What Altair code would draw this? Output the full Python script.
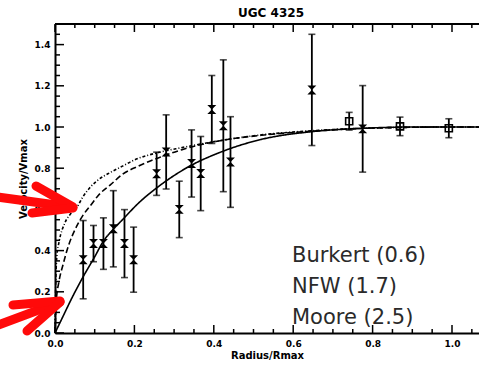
import altair as alt
import pandas as pd

# ---------------- data ----------------
pt_x = [0.071, 0.097, 0.122, 0.147, 0.175, 0.198, 0.256, 0.280, 0.313, 0.344,
        0.367, 0.395, 0.424, 0.442, 0.647, 0.775]
pt_y = [0.356, 0.434, 0.434, 0.506, 0.434, 0.356, 0.773, 0.879, 0.600, 0.823,
        0.774, 1.085, 1.006, 0.830, 1.180, 0.991]
pt_err = [0.190, 0.088, 0.125, 0.185, 0.165, 0.158, 0.105, 0.180, 0.137, 0.163,
          0.180, 0.165, 0.320, 0.220, 0.270, 0.210]

sq_x = [0.741, 0.869, 0.992]
sq_y = [1.028, 1.003, 0.994]
sq_err = [0.043, 0.045, 0.046]

burkert_x = [0, 0.02, 0.04, 0.07, 0.10, 0.12, 0.15, 0.17, 0.21, 0.26, 0.33, 0.42,
             0.52, 0.65, 0.78, 0.90, 1.00, 1.068]
burkert_y = [0, 0.08, 0.16, 0.27, 0.37, 0.44, 0.51, 0.55, 0.63, 0.71, 0.80, 0.88,
             0.94, 0.978, 0.994, 1.0, 1.0, 1.0]

nfw_x = [0, 0.003, 0.01, 0.02, 0.035, 0.05, 0.07, 0.09, 0.11, 0.14, 0.17, 0.21,
         0.26, 0.32, 0.42, 0.52, 0.65, 0.80, 1.00, 1.068]
nfw_y = [0, 0.15, 0.25, 0.33, 0.43, 0.50, 0.57, 0.62, 0.67, 0.72, 0.77, 0.81,
         0.85, 0.89, 0.935, 0.96, 0.98, 0.995, 1.0, 1.0]

moore_x = [0, 0.002, 0.005, 0.01, 0.025, 0.04, 0.055, 0.07, 0.09, 0.11, 0.14, 0.17,
           0.20, 0.26, 0.32, 0.42, 0.52, 0.65, 0.80, 1.00, 1.068]
moore_y = [0, 0.25, 0.38, 0.44, 0.535, 0.58, 0.61, 0.66, 0.71, 0.745, 0.78, 0.81,
           0.84, 0.876, 0.90, 0.935, 0.962, 0.982, 0.995, 1.0, 1.0]

legend_lines = ["Burkert (0.6)", "NFW (1.7)", "Moore (2.5)"]
title_text = "UGC 4325"
x_title = "Radius/Rmax"
y_title = "Velocity/Vmax"
x_ticks = [0.0, 0.2, 0.4, 0.6, 0.8, 1.0]
y_ticks = [0.0, 0.2, 0.4, 0.6, 0.8, 1.0, 1.2, 1.4]
x_minor = [round(0.05 * i, 2) for i in range(0, 22)]
y_minor = [round(0.05 * i, 2) for i in range(0, 31)]

# ---------------- layout ----------------
W, H = 424, 309
XMAX, YMAX = 1.068, 1.5
FONT = "DejaVu Sans"

xs = alt.Scale(domain=[0, XMAX], nice=False, zero=False)
ys = alt.Scale(domain=[0, YMAX], nice=False, zero=False)

x_axis = alt.Axis(
    values=x_ticks, format=".1f", ticks=False, grid=False,
    domainColor="black", domainWidth=2,
    labelFont=FONT, labelFontSize=9, labelFontWeight="bold", labelColor="black",
    labelPadding=6, labelFlush=False,
    title=x_title, titleFont=FONT, titleFontSize=10, titleFontWeight="bold",
    titleColor="black", titlePadding=2)
y_axis = alt.Axis(
    values=y_ticks, format=".1f", ticks=False, grid=False,
    domainColor="black", domainWidth=2,
    labelFont=FONT, labelFontSize=9, labelFontWeight="bold", labelColor="black",
    labelPadding=5, labelFlush=False,
    title=y_title, titleFont=FONT, titleFontSize=10, titleFontWeight="bold",
    titleColor="black", titlePadding=6)


def X(field):
    return alt.X(field, scale=xs, axis=x_axis)


def Y(field):
    return alt.Y(field, scale=ys, axis=y_axis)


pts = pd.DataFrame({"x": pt_x, "y": pt_y, "err": pt_err})
sqs = pd.DataFrame({"x": sq_x, "y": sq_y, "err": sq_err})
allpts = pd.concat([pts, sqs], ignore_index=True)
allpts["lo"] = allpts["y"] - allpts["err"]
allpts["hi"] = allpts["y"] + allpts["err"]

curves = pd.concat([
    pd.DataFrame({"x": burkert_x, "y": burkert_y, "model": "Burkert"}),
    pd.DataFrame({"x": nfw_x, "y": nfw_y, "model": "NFW"}),
    pd.DataFrame({"x": moore_x, "y": moore_y, "model": "Moore"}),
], ignore_index=True)

xticks_df = pd.DataFrame({"v": x_minor})
xticks_df["major"] = [abs(v / 0.2 - round(v / 0.2)) < 1e-6 for v in x_minor]
yticks_df = pd.DataFrame({"v": y_minor})
yticks_df["major"] = [abs(v / 0.2 - round(v / 0.2)) < 1e-6 for v in y_minor]

top_frame = alt.Chart(pd.DataFrame({"a": [0]})).mark_rule(color="black", strokeWidth=2).encode(
    x=alt.value(0), x2=alt.value(W), y=alt.value(0))


def xtick_layer(major, length, top):
    d = xticks_df[xticks_df["major"] == major]
    y0 = 0 if top else H
    y1 = length if top else H - length
    return alt.Chart(d).mark_rule(color="black", strokeWidth=1.5).encode(
        x=X("v:Q"), y=alt.value(y0), y2=alt.value(y1))


def ytick_layer(major, length):
    d = yticks_df[yticks_df["major"] == major]
    return alt.Chart(d).mark_rule(color="black", strokeWidth=1.5).encode(
        y=Y("v:Q"), x=alt.value(0), x2=alt.value(length))


ticks = [xtick_layer(True, 8, True), xtick_layer(False, 4, True),
         xtick_layer(True, 8, False), xtick_layer(False, 4, False),
         ytick_layer(True, 9), ytick_layer(False, 5)]

styles = {"Burkert": [1, 0], "NFW": [6, 3], "Moore": [3, 2, 1, 2]}
curve_layers = []
for m, dash in styles.items():
    curve_layers.append(
        alt.Chart(curves[curves["model"] == m]).mark_line(
            color="black", strokeWidth=1.6, strokeDash=dash, clip=False,
            interpolate="monotone").encode(
            x=X("x:Q"), y=Y("y:Q")))

errbars = alt.Chart(allpts).mark_rule(color="black", strokeWidth=1.8).encode(
    x=X("x:Q"), y=Y("lo:Q"), y2="hi:Q")
cap_lo = alt.Chart(allpts).mark_tick(color="black", orient="horizontal", size=7, thickness=1.6).encode(
    x=X("x:Q"), y=Y("lo:Q"))
cap_hi = alt.Chart(allpts).mark_tick(color="black", orient="horizontal", size=7, thickness=1.6).encode(
    x=X("x:Q"), y=Y("hi:Q"))

hourglass = "M -1 -1 L 1 -1 L -1 1 L 1 1 Z"
filled = alt.Chart(pts).mark_point(shape=hourglass, filled=True, color="black", size=80, opacity=1).encode(
    x=X("x:Q"), y=Y("y:Q"))
opensq = alt.Chart(sqs).mark_point(shape="square", filled=False, color="black", size=50,
                                    strokeWidth=1.6, opacity=1).encode(
    x=X("x:Q"), y=Y("y:Q"))

legend_text = alt.Chart(pd.DataFrame({"a": [0]})).mark_text(
    text=legend_lines, font=FONT, fontSize=21, color="#2a2a2a", align="left",
    baseline="middle", lineHeight=31.2).encode(x=alt.value(237), y=alt.value(231.5))

title = alt.Chart(pd.DataFrame({"a": [0]})).mark_text(
    text=title_text, font=FONT, fontSize=12, fontWeight="bold", color="black",
    align="center", baseline="middle").encode(x=alt.value(216), y=alt.value(-11))

# red annotation arrows (pixel coordinates relative to the plot origin)
arrow_segments = [
    (-58, 173, 16, 183), (-19, 162, 18, 183), (-23, 189, 18, 184),
    (-62, 303, 5, 278), (-42, 281, 5, 277), (-28, 307, 5, 278),
]
arrows = []
for (ax0, ay0, ax1, ay1) in arrow_segments:
    arrows.append(alt.Chart(pd.DataFrame({"a": [0]})).mark_rule(
        color="#ff0a0a", strokeWidth=9, strokeCap="round").encode(
        x=alt.value(ax0), y=alt.value(ay0), x2=alt.value(ax1), y2=alt.value(ay1)))

chart = alt.layer(
    top_frame, *ticks, *curve_layers, errbars, cap_lo, cap_hi,
    filled, opensq, legend_text, title, *arrows
).properties(
    width=W, height=H,
    autosize=alt.AutoSizeParams(type="none"),
    padding={"left": 55, "top": 24, "right": 0, "bottom": 33},
    background="white",
).configure_view(strokeWidth=0)

chart.save("out.html", embed_options={"renderer": "svg", "actions": False})
